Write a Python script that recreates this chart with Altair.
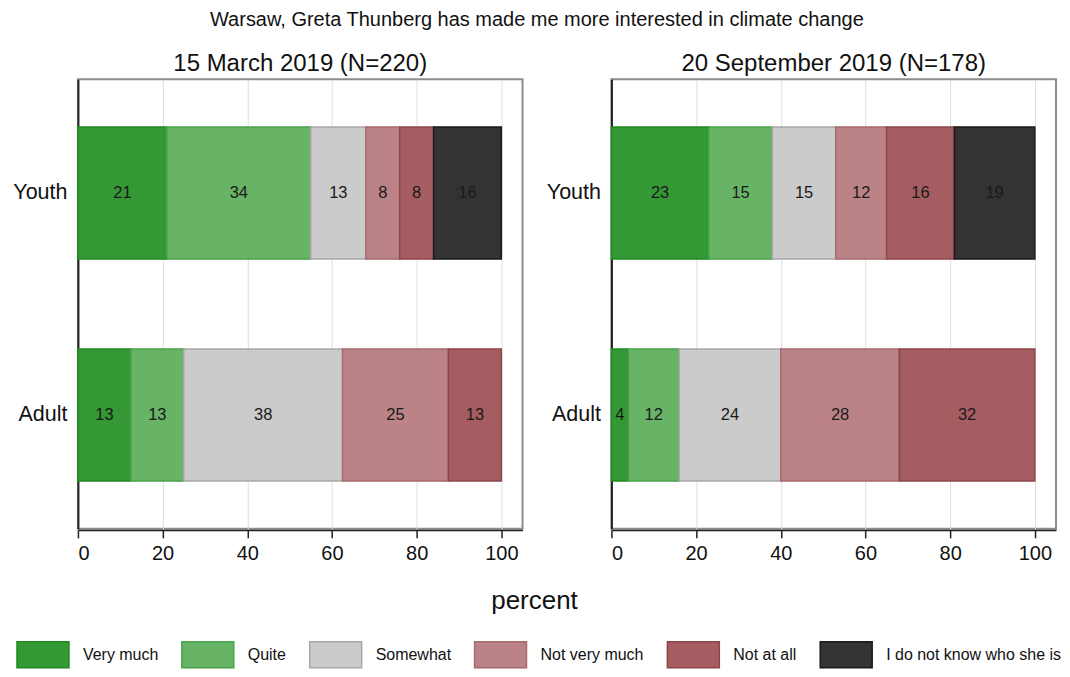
import altair as alt
import pandas as pd

# ---- data ----
categories = ["Very much", "Quite", "Somewhat", "Not very much", "Not at all",
              "I do not know who she is"]
panels = ["15 March 2019 (N=220)", "20 September 2019 (N=178)"]
groups = ["Youth", "Adult"]

march_youth = [21, 34, 13, 8, 8, 16]
march_adult = [12.5, 12.5, 37.5, 25, 12.5, 0]
sept_youth = [23, 15, 15, 12, 16, 19]
sept_adult = [4, 12, 24, 28, 32, 0]

fills = ["#349934", "#67b467", "#cbcbcb", "#bb8387", "#a65d62", "#333333"]
strokes = ["#1f8a1f", "#4aa34a", "#a8a8a8", "#a66a6e", "#8e454a", "#1a1a1a"]

series = {
    (panels[0], "Youth"): march_youth,
    (panels[0], "Adult"): march_adult,
    (panels[1], "Youth"): sept_youth,
    (panels[1], "Adult"): sept_adult,
}

rows = []
for (panel, group), vals in series.items():
    for i, (cat, v) in enumerate(zip(categories, vals)):
        if v > 0:
            rows.append({"panel": panel, "group": group, "category": cat,
                         "order": i, "value": v})
df = pd.DataFrame(rows)

FONT = "Liberation Sans"

base = alt.Chart().transform_stack(
    stack="value",
    groupby=["panel", "group"],
    as_=["x0", "x1"],
    sort=[alt.SortField("order", order="ascending")],
).transform_calculate(mid="(datum.x0 + datum.x1) / 2")

y_enc = alt.Y(
    "group:N",
    sort=groups,
    scale=alt.Scale(paddingInner=0.405, paddingOuter=0.215),
    axis=alt.Axis(title=None, ticks=False, labelFontSize=21.5, labelPadding=11,
                  labelColor="#111", domainColor="#222", domainWidth=2,
                  grid=False),
)

x_scale = alt.Scale(domain=[0, 105], nice=False, zero=True)
x_axis = alt.Axis(values=[0, 20, 40, 60, 80, 100], title=None,
                  labelFontSize=20, labelPadding=6, labelColor="#111",
                  tickSize=8, tickColor="#222", tickWidth=1.5,
                  domainColor="#222", domainWidth=2,
                  grid=True, gridColor="#dedede", gridWidth=1)

bars = base.mark_bar(strokeWidth=1.5).encode(
    x=alt.X("x0:Q", scale=x_scale, axis=x_axis),
    x2="x1:Q",
    y=y_enc,
    fill=alt.Fill("category:N", sort=categories,
                  scale=alt.Scale(domain=categories, range=fills),
                  legend=alt.Legend(title=None)),
    stroke=alt.Stroke("category:N", sort=categories,
                      scale=alt.Scale(domain=categories, range=strokes),
                      legend=alt.Legend(title=None)),
)

labels = base.mark_text(fontSize=16.5, color="#1a1a1a", font=FONT,
                        align="center", baseline="middle").encode(
    x=alt.X("mid:Q", scale=x_scale),
    y=alt.Y("group:N", sort=groups),
    text=alt.Text("value:Q", format=".0f"),
)

layered = alt.layer(bars, labels, data=df).properties(width=445, height=450)

chart = layered.facet(
    column=alt.Column("panel:N", sort=panels, title="percent",
                      header=alt.Header(labelFontSize=24, labelFont=FONT,
                                        labelColor="#111", labelPadding=2,
                                        labelOrient="top",
                                        titleOrient="bottom",
                                        titleFontSize=26, titleFont=FONT,
                                        titleFontWeight="normal",
                                        titleColor="#111", titlePadding=14)),
    spacing=21,
).resolve_axis(y="independent").properties(
    title=alt.TitleParams(
        "Warsaw, Greta Thunberg has made me more interested in climate change",
        fontSize=20, font=FONT, fontWeight="normal", color="#111",
        anchor="middle", offset=22),
    padding={"left": 3, "top": 2, "right": 0, "bottom": 0},
).configure(font=FONT).configure_view(
    stroke="#8c8c8c", strokeWidth=2
).configure_legend(
    orient="none", legendX=-62, legendY=549, direction="horizontal",
    symbolType="M-1,-0.5H1V0.5H-1Z", symbolSize=2704,
    symbolStrokeWidth=1.5, symbolOpacity=1,
    labelFontSize=16, labelFont=FONT, labelColor="#111", labelLimit=0,
    labelOffset=13, columnPadding=20,
)

chart.save("out.html", embed_options={"renderer": "svg", "actions": False})
